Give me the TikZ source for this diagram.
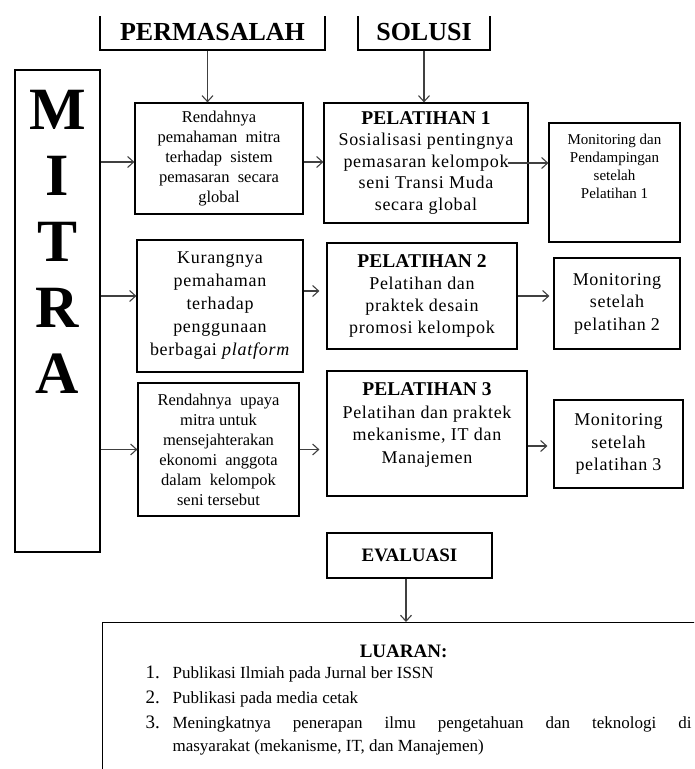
\documentclass[tikz,border=0pt]{standalone}
\usepackage{fontspec}
\usetikzlibrary{arrows.meta}
\setmainfont{Liberation Serif}
\newfontfamily\renggang[LetterSpace=4]{Liberation Serif}
\newcommand{\turun}[1]{\rule[-#1]{0pt}{#1}}
\newcommand{\latih}[1]{{\rmfamily\fontsize{19.5}{22}\selectfont\bfseries PELATIHAN #1}}

\begin{document}
\begin{tikzpicture}[x=1pt,y=-1pt,
  kotak/.style={draw,rectangle,line width=1.2pt,align=center,inner sep=2pt},
  judul/.style={font=\fontsize{26}{30}\selectfont\bfseries},
  panah/.style={-{Straight Barb[length=6pt,width=11pt]},line width=1.1pt,draw=black!75}]
\useasboundingbox (0,0) rectangle (694,769);
\clip (0,16) rectangle (694,769);

\node[kotak,minimum width=225pt,minimum height=35pt,judul] (perm) at (212.5,32.5) {PERMASALAH};
\node[kotak,minimum width=132pt,minimum height=35pt,judul] (sol) at (424,32.5) {SOLUSI};
\node[kotak,minimum width=85pt,minimum height=482pt,font=\fontsize{60}{66}\selectfont\bfseries] (mitra) at (57.5,311) {M\\I\\T\\R\\A\turun{138pt}};

\node[kotak,minimum width=168pt,minimum height=111pt,font=\fontsize{16.5}{20}\selectfont] (p1) at (219,158.5) {Rendahnya\\pemahaman\ \ mitra\\terhadap\ \ sistem\\pemasaran\ \ secara\\global};
\node[kotak,minimum width=166pt,minimum height=132pt,font=\renggang\fontsize{18}{23}\selectfont] (p2) at (220,306) {Kurangnya\\pemahaman\\terhadap\\penggunaan\\berbagai \textit{platform}};
\node[kotak,minimum width=161pt,minimum height=133pt,font=\fontsize{16.5}{20}\selectfont] (p3) at (218.5,449.5) {Rendahnya\ \ upaya\\mitra untuk\\mensejahterakan\\ekonomi\ \ anggota\\dalam\ \ kelompok\\seni tersebut};

\node[kotak,minimum width=204pt,minimum height=120pt,font=\renggang\fontsize{18}{21.5}\selectfont] (s1) at (426,163) {\latih{1}\\Sosialisasi pentingnya\\pemasaran kelompok\\seni Transi Muda\\secara global};
\node[kotak,minimum width=190pt,minimum height=106pt,font=\renggang\fontsize{18}{22}\selectfont] (s2) at (422,296) {\latih{2}\\Pelatihan dan\\praktek desain\\promosi kelompok};
\node[kotak,minimum width=200pt,minimum height=125pt,font=\renggang\fontsize{18}{22.5}\selectfont] (s3) at (427,433.5) {\latih{3}\\Pelatihan dan praktek\\mekanisme, IT dan\\Manajemen\turun{21pt}};

\node[kotak,minimum width=131pt,minimum height=119pt,font=\fontsize{15}{18}\selectfont] (m1) at (614.5,182.5) {Monitoring dan\\Pendampingan\\setelah\\Pelatihan 1\turun{32pt}};
\node[kotak,minimum width=126pt,minimum height=91pt,font=\renggang\fontsize{18}{22.5}\selectfont] (m2) at (617,303.5) {Monitoring\\setelah\\pelatihan 2};
\node[kotak,minimum width=129pt,minimum height=88pt,font=\renggang\fontsize{18}{22.5}\selectfont] (m3) at (618.5,444) {Monitoring\\setelah\\pelatihan 3};

\node[kotak,minimum width=165pt,minimum height=45pt,font=\fontsize{19}{22}\selectfont\bfseries] (eval) at (409.5,555.5) {EVALUASI};
\node[kotak,inner sep=0pt,anchor=north west,font=\fontsize{17}{25}\selectfont] (luaran) at (102,622) {\parbox[c][190pt][t]{602pt}{\vspace*{22pt}%
\makebox[602pt][c]{\fontsize{19}{25}\selectfont\bfseries LUARAN:}\\[-4pt]
\hspace*{43pt}\makebox[27pt][l]{\fontsize{19}{25}\selectfont 1.}Publikasi Ilmiah pada Jurnal ber ISSN\\
\hspace*{43pt}\makebox[27pt][l]{\fontsize{19}{25}\selectfont 2.}Publikasi pada media cetak\\
\hspace*{43pt}\makebox[27pt][l]{\fontsize{19}{25}\selectfont 3.}\hbox to 519pt{Meningkatnya\hfill penerapan\hfill ilmu\hfill pengetahuan\hfill dan\hfill teknologi\hfill di}\\[-2pt]
\hspace*{70pt}masyarakat (mekanisme, IT, dan Manajemen)}};

\coordinate (r1) at ([yshift=-3.5pt]p1.west);
\coordinate (r2) at ([yshift=10pt]p2.west);
\coordinate (r2b) at ([yshift=15pt]p2.east);
\coordinate (r3b) at ([yshift=-12.5pt]s3.east);

\draw[panah] ([xshift=-5pt]perm.south) -- ([xshift=-5pt]perm.south |- p1.north);
\draw[panah] (sol.south) -- (sol.south |- s1.north);
\draw[panah] (mitra.east |- r1) -- (r1);
\draw[panah] (r1 -| p1.east) -- (r1 -| s1.west);
\draw[panah,shorten <=-21pt] (s1.east) -- (s1.east -| m1.west);
\draw[panah] (mitra.east |- r2) -- (r2);
\draw[panah,shorten >=7pt] (r2b) -- (r2b -| s2.west);
\draw[panah,shorten >=4pt] (s2.east) -- (s2.east -| m2.west);
\draw[panah] (mitra.east |- p3.west) -- (p3.west);
\draw[panah,shorten >=7pt] (p3.east) -- (p3.east -| s3.west);
\draw[panah,shorten >=6pt] (r3b) -- (r3b -| m3.west);
\draw[panah] ([xshift=-3.5pt]eval.south) -- ([xshift=-3.5pt]eval.south |- luaran.north);
\end{tikzpicture}
\end{document}
